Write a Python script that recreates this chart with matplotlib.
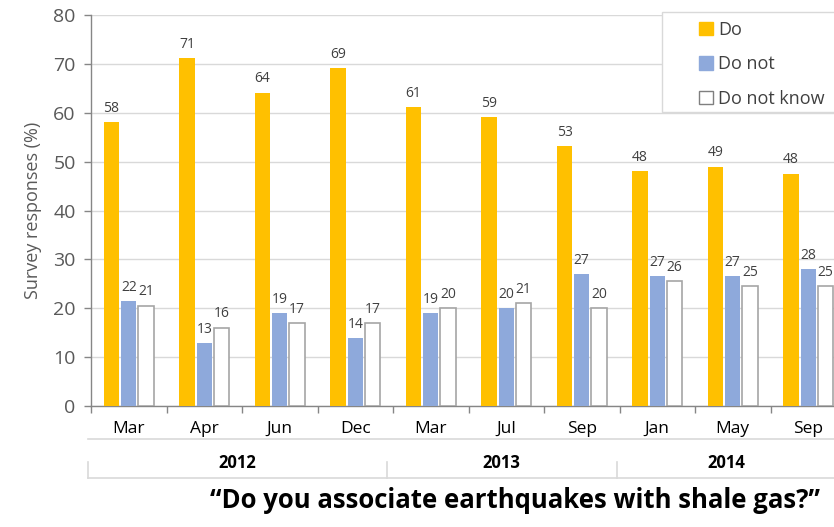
import matplotlib
matplotlib.use("Agg")
import matplotlib.pyplot as plt
from matplotlib.lines import Line2D
from matplotlib.patches import Patch, Rectangle
import numpy as np

plt.rcParams['font.family'] = ['Open Sans', 'DejaVu Sans']

months = ["Mar", "Apr", "Jun", "Dec", "Mar", "Jul", "Sep", "Jan", "May", "Sep"]
years = ["2012", "2013", "2014"]
series_names = ["Do", "Do not", "Do not know"]
do_vals = [58.1, 71.1, 64.1, 69.1, 61.1, 59.1, 53.1, 48.0, 49.0, 47.5]
donot_vals = [21.4, 12.9, 19.0, 13.9, 19.0, 20.0, 27.0, 26.5, 26.5, 28.0]
dnk_vals = [20.5, 16.0, 17.0, 17.0, 20.0, 21.0, 20.0, 25.6, 24.5, 24.5]
do_labels = ["58", "71", "64", "69", "61", "59", "53", "48", "49", "48"]
donot_labels = ["22", "13", "19", "14", "19", "20", "27", "27", "27", "28"]
dnk_labels = ["21", "16", "17", "17", "20", "21", "20", "26", "25", "25"]

W, H = 834, 527
fig = plt.figure(figsize=(W / 100, H / 100), dpi=100)
ax_left, ax_bottom, ax_top, ax_w = 91, 406, 15, 755
ax = fig.add_axes([ax_left / W, (H - ax_bottom) / H, ax_w / W, (ax_bottom - ax_top) / H])

x = np.arange(len(months))
bw = 0.205
step = 0.228
c_do, c_dn, c_dk = "#FFC000", "#8EA9DB", "#FFFFFF"
ax.bar(x - step, do_vals, bw, color=c_do, zorder=3)
ax.bar(x, donot_vals, bw, color=c_dn, zorder=3)
ax.bar(x + step, dnk_vals, bw, color=c_dk, edgecolor="#A5A5A5", linewidth=1.2, zorder=3)

lab_kw = dict(ha="center", va="bottom", fontsize=10, color="#404040", zorder=4)
for xs, vals, labs in [(x - step, do_vals, do_labels), (x, donot_vals, donot_labels),
                       (x + step, dnk_vals, dnk_labels)]:
    for xi, v, l in zip(xs, vals, labs):
        ax.text(xi, v + 1.3, l, **lab_kw)

ax.set_xlim(-0.5, len(months) - 0.5)
ax.set_ylim(0, 80)
ax.set_yticks(np.arange(0, 81, 10))
ax.yaxis.grid(True, color="#D9D9D9", linewidth=1.0, zorder=0)
ax.set_axisbelow(True)
for s in ["top", "right"]:
    ax.spines[s].set_visible(False)
for s in ["left", "bottom"]:
    ax.spines[s].set_color("#868686")
    ax.spines[s].set_linewidth(1.0)

ax.tick_params(axis="y", labelsize=14, colors="#595959", length=5, width=1, color="#868686", pad=6)
ax.set_xticks(np.arange(-0.5, len(months), 1.0))
ax.set_xticklabels([])
ax.tick_params(axis="x", which="major", length=5, width=1, color="#868686")
ax.set_xticks(x, months, minor=True)
ax.tick_params(axis="x", which="minor", length=0, labelsize=12.5, labelcolor="#000000", pad=11)

ax.set_ylabel("Survey responses (%)", fontsize=13, color="#595959", labelpad=8)

def fx(px):
    return px / W

def fy(py):
    return (H - py) / H

gcol = "#D9D9D9"
for yy in [439.3, 478]:
    fig.add_artist(Line2D([fx(87.7), fx(850)], [fy(yy), fy(yy)], color=gcol, lw=1.2))
for xx in [87.7, 386.7, 616.7]:
    fig.add_artist(Line2D([fx(xx), fx(xx)], [fy(462), fy(478)], color=gcol, lw=1.2))

for yr, cx in zip(years, [237, 501.7, 726]):
    fig.text(fx(cx), fy(463), yr, ha="center", va="center", fontsize=12, fontweight="bold", color="#000000")

fig.text(fx(514.5), fy(500), "\u201cDo you associate earthquakes with shale gas?\u201d", ha="center", va="center",
         fontsize=18.5, fontweight="bold", color="#000000")

# legend frame
fig.add_artist(Rectangle((fx(662), fy(112)), fx(200), (112 - 12) / H, facecolor="white",
                         edgecolor="#D9D9D9", linewidth=1.0, zorder=9))
handles = [Patch(facecolor=c_do, edgecolor=c_do),
           Patch(facecolor=c_dn, edgecolor=c_dn),
           Patch(facecolor=c_dk, edgecolor="#7F7F7F", linewidth=1.0)]
leg = fig.legend(handles, series_names, loc="upper left", bbox_to_anchor=(fx(699), fy(21)),
                 fontsize=13, frameon=False,
                 handlelength=0.75, handleheight=0.75, handletextpad=0.3, labelspacing=0.9,
                 borderpad=0.0, borderaxespad=0, labelcolor="#404040")
leg.set_zorder(10)

fig.savefig("out.png", dpi=100)
